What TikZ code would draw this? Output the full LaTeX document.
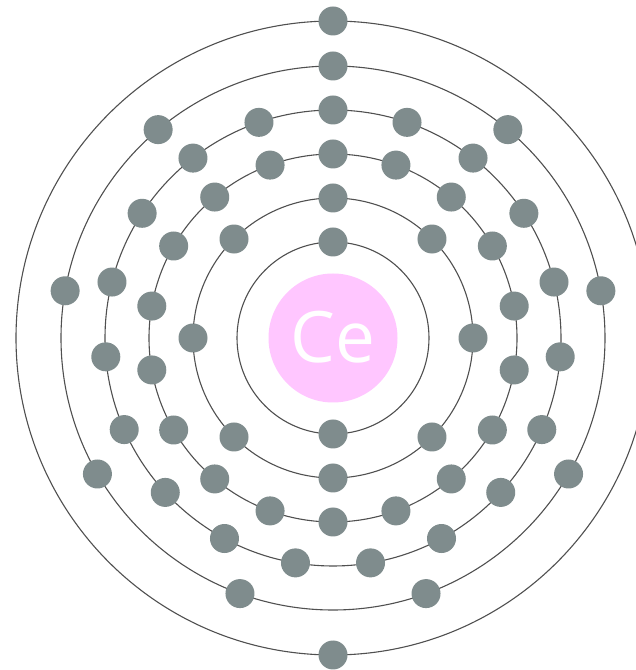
\documentclass[tikz,border=0pt]{standalone}
\usepackage{fontspec}
\usetikzlibrary{calc}
\newfontfamily\labelfont{Open Sans}
\definecolor{elec}{HTML}{7F8C8D}
\definecolor{nuc}{HTML}{FFC6FF}
\definecolor{shellc}{HTML}{505050}
\begin{document}
\begin{tikzpicture}[x=1pt,y=1pt,
  shell/.style={draw=shellc,line width=1.1pt},
  electron/.style={circle,fill=elec,draw=none,minimum size=29pt,inner sep=0pt},
  nucleus/.style={circle,fill=nuc,draw=none,minimum size=129pt,inner sep=0pt},
  label/.style={text=white,font=\labelfont\fontsize{71}{71}\selectfont,inner sep=0pt}]
\clip (0,0) rectangle (636,670);
\fill[white] (0,0) rectangle (636,670);
\coordinate (c) at (333,332);
\foreach \r in {96,140,184,228,272,317} \draw[shell] (c) circle (\r);
\node[nucleus] (N) at (c) {};
\node[label] (L) at (333,333) {Ce};
% shell 1: 2 electrons
\foreach \i in {0,...,1} \node[electron] (s1e\i) at ($(c)+({90+\i*180}:96)$) {};
% shell 2: 8
\foreach \i in {0,...,7} \node[electron] (s2e\i) at ($(c)+({90+\i*45}:140)$) {};
% shell 3: 18
\foreach \i in {0,...,17} \node[electron] (s3e\i) at ($(c)+({90+\i*20}:184)$) {};
% shell 4: 19
\foreach \i in {0,...,18} \node[electron] (s4e\i) at ($(c)+({90+\i*360/19}:228)$) {};
% shell 5: 9
\foreach \i in {0,...,8} \node[electron] (s5e\i) at ($(c)+({90+\i*40}:272)$) {};
% shell 6: 2
\foreach \i in {0,...,1} \node[electron] (s6e\i) at ($(c)+({90+\i*180}:317)$) {};
\end{tikzpicture}
\end{document}
